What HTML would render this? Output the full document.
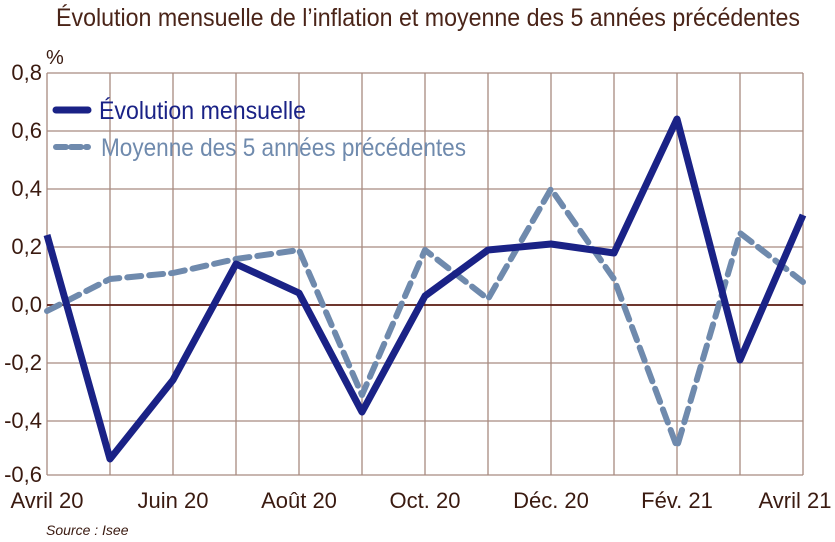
<!DOCTYPE html>
<html><head><meta charset="utf-8"><style>
html,body{margin:0;padding:0;background:#fff;width:835px;height:542px;overflow:hidden}
svg text{font-family:"Liberation Sans Narrow","Liberation Sans",sans-serif;}
</style></head><body>
<svg width="835" height="542" viewBox="0 0 835 542" xmlns="http://www.w3.org/2000/svg">
<text x="56" y="26" font-size="25" fill="#4a2418" textLength="744" lengthAdjust="spacingAndGlyphs">Évolution mensuelle de l’inflation et moyenne des 5 années précédentes</text>
<text x="46" y="64" font-size="20" fill="#3a1a10">%</text>
<g stroke="#a88a80" stroke-width="1.3" fill="none">
<line x1="47" y1="73" x2="803" y2="73"/>
<line x1="47" y1="131" x2="803" y2="131"/>
<line x1="47" y1="189" x2="803" y2="189"/>
<line x1="47" y1="247" x2="803" y2="247"/>
<line x1="47" y1="363" x2="803" y2="363"/>
<line x1="47" y1="421" x2="803" y2="421"/>
<line x1="47" y1="475" x2="803" y2="475"/>
<line x1="47" y1="73" x2="47" y2="475"/>
<line x1="110" y1="73" x2="110" y2="475"/>
<line x1="173" y1="73" x2="173" y2="475"/>
<line x1="236" y1="73" x2="236" y2="475"/>
<line x1="299" y1="73" x2="299" y2="475"/>
<line x1="362" y1="73" x2="362" y2="475"/>
<line x1="425" y1="73" x2="425" y2="475"/>
<line x1="488" y1="73" x2="488" y2="475"/>
<line x1="551" y1="73" x2="551" y2="475"/>
<line x1="614" y1="73" x2="614" y2="475"/>
<line x1="677" y1="73" x2="677" y2="475"/>
<line x1="740" y1="73" x2="740" y2="475"/>
<line x1="803" y1="73" x2="803" y2="475"/>
</g>
<line x1="47" y1="305" x2="803" y2="305" stroke="#5a1a10" stroke-width="1.8"/>
<g font-size="22" fill="#3a1a10" text-anchor="end">
<text x="42" y="80">0,8</text><text x="42" y="138">0,6</text><text x="42" y="196">0,4</text>
<text x="42" y="254">0,2</text><text x="42" y="312">0,0</text><text x="42" y="370">-0,2</text>
<text x="42" y="428">-0,4</text><text x="42" y="482">-0,6</text>
</g>
<g font-size="22" fill="#3a1a10" text-anchor="middle">
<text x="47" y="508">Avril 20</text><text x="173" y="508">Juin 20</text><text x="299" y="508">Août 20</text>
<text x="425" y="508">Oct. 20</text><text x="551" y="508">Déc. 20</text><text x="677" y="508">Fév. 21</text>
<text x="795" y="508">Avril 21</text>
</g>
<text x="46" y="535" font-size="14" font-style="italic" fill="#3a1a10">Source : Isee</text>
<polyline fill="none" stroke="#6f8aad" stroke-width="6" stroke-dasharray="14,8" stroke-linecap="round" stroke-linejoin="round"
points="47,311 110,279 173,273 236,259 299,250 362,395 425,250 488,299 551,189 614,279 677,447 740,233 803,282"/>
<polyline fill="none" stroke="#1a2286" stroke-width="7" stroke-linejoin="round"
points="47,235 110,459 173,380 236,264 299,293 362,412 425,296 488,250 551,244 614,253 677,119 740,360 803,215"/>
<line x1="56" y1="110" x2="88" y2="110" stroke="#1a2286" stroke-width="7" stroke-linecap="round"/>
<line x1="56" y1="147" x2="88" y2="147" stroke="#6f8aad" stroke-width="6" stroke-dasharray="10,5" stroke-linecap="round"/>
<text x="99" y="119" font-size="25" fill="#1a2286" textLength="207" lengthAdjust="spacingAndGlyphs">Évolution mensuelle</text>
<text x="101" y="156" font-size="25" fill="#6f8aad" textLength="365" lengthAdjust="spacingAndGlyphs">Moyenne des 5 années précédentes</text>
</svg>
</body></html>
